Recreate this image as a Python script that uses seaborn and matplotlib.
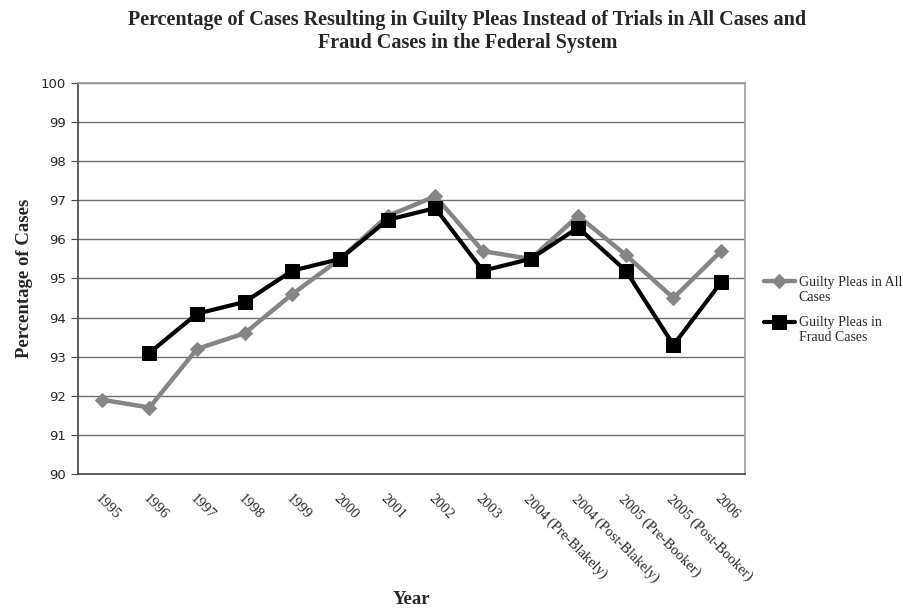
import numpy as np
import pandas as pd
import matplotlib
matplotlib.use("Agg")
import matplotlib.pyplot as plt
import seaborn as sns

years = ["1995", "1996", "1997", "1998", "1999", "2000", "2001", "2002", "2003",
         "2004 (Pre-Blakely)", "2004 (Post-Blakely)", "2005 (Pre-Booker)",
         "2005 (Post-Booker)", "2006"]
all_cases = [91.9, 91.7, 93.2, 93.6, 94.6, 95.5, 96.6, 97.1, 95.7, 95.5, 96.6, 95.6, 94.5, 95.7]
fraud_cases = [np.nan, 93.1, 94.1, 94.4, 95.2, 95.5, 96.5, 96.8, 95.2, 95.5, 96.3, 95.2, 93.3, 94.9]

sns.set_style("white")
plt.rcParams["font.family"] = ["Liberation Serif", "DejaVu Serif"]

pos = np.arange(len(years))
df_all = pd.DataFrame({"pos": pos, "value": all_cases})
df_fraud = pd.DataFrame({"pos": pos, "value": fraud_cases}).dropna()

fig = plt.figure(figsize=(9.04, 6.08), dpi=100)
ax = fig.add_axes([0.0863, 0.2204, 0.7377, 0.6431])

sns.lineplot(data=df_all, x="pos", y="value", ax=ax, color="#858585", lw=3.2,
             marker="D", markersize=7.5, markeredgecolor="#858585",
             label="Guilty Pleas in All\nCases")
sns.lineplot(data=df_fraud, x="pos", y="value", ax=ax, color="black", lw=3,
             marker="s", markersize=9.5, markeredgecolor="black",
             label="Guilty Pleas in\nFraud Cases")

ax.set_xlim(-0.5, len(years) - 0.5)
ax.set_ylim(90, 100)
ax.set_yticks(range(90, 101))
ax.set_yticklabels([str(v) for v in range(90, 101)], family="DejaVu Sans", fontsize=9.5)
ax.yaxis.grid(True, color="#6e6e6e", lw=1)
ax.set_axisbelow(True)

ax.set_xticks(pos)
ax.set_xticklabels(years, rotation=-45, ha="left", va="top", rotation_mode="anchor",
                   fontsize=10.5)
ax.set_xticks(np.arange(-0.5, len(years)), minor=True)
ax.tick_params(axis="x", which="major", length=0, pad=13)
ax.tick_params(axis="x", which="minor", length=5, color="#444444", direction="out")
ax.tick_params(axis="y", length=5, color="#444444", direction="out", left=True)

for s in ["left", "bottom"]:
    ax.spines[s].set_color("#444444")
    ax.spines[s].set_linewidth(1.2)
for s in ["top", "right"]:
    ax.spines[s].set_color("#9a9a9a")
    ax.spines[s].set_linewidth(1.2)

ax.set_xlabel("Year", fontsize=13.5, fontweight="bold")
ax.set_ylabel("Percentage of Cases", fontsize=13.5, fontweight="bold", labelpad=6)
ax.xaxis.set_label_coords(0.5, -0.30)

fig.suptitle("Percentage of Cases Resulting in Guilty Pleas Instead of Trials in All Cases and\n"
             "Fraud Cases in the Federal System", fontsize=14.5, fontweight="bold",
             x=0.517, y=0.983, linespacing=1.15)

leg = ax.legend(loc="center left", bbox_to_anchor=(1.01, 0.42), frameon=False, fontsize=10,
                handlelength=2.2, labelspacing=0.9, handletextpad=0.3)
# put the legend marker on the first text line, as in the original
for line in leg.get_lines():
    line.set_ydata(np.asarray(line.get_ydata()) + 6)

fig.savefig("out.png", dpi=100)
